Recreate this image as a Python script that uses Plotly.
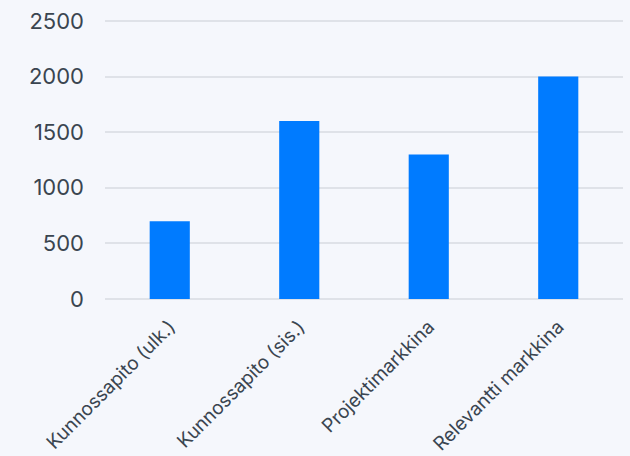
import plotly.graph_objects as go

categories = ["Kunnossapito (ulk.)", "Kunnossapito (sis.)", "Projektimarkkina", "Relevantti markkina"]
values = [700, 1600, 1300, 2000]
y_ticks = [0, 500, 1000, 1500, 2000, 2500]

fig = go.Figure(go.Bar(x=categories, y=values, marker=dict(color="#007bff", line=dict(width=0))))

fig.update_layout(
    width=630, height=456,
    margin=dict(l=105, r=7, t=18, b=157),
    paper_bgcolor="#f5f7fc", plot_bgcolor="#f5f7fc",
    bargap=0.69,
    font=dict(family="Inter, Open Sans, sans-serif", size=22, color="#3a4550"),
    showlegend=False,
)
fig.update_yaxes(range=[0, 2526], tickvals=y_ticks, showgrid=True, gridcolor="#dfe2e8", gridwidth=2,
                 zeroline=True, zerolinecolor="#dfe2e8", zerolinewidth=2, showline=False, ticks="",
                 ticklabelstandoff=20, automargin=False)
fig.update_xaxes(tickangle=-45, showline=False, ticks="", showgrid=False, tickfont=dict(size=19),
                 ticklabelstandoff=12, automargin=False)

fig.write_html("out.html")
